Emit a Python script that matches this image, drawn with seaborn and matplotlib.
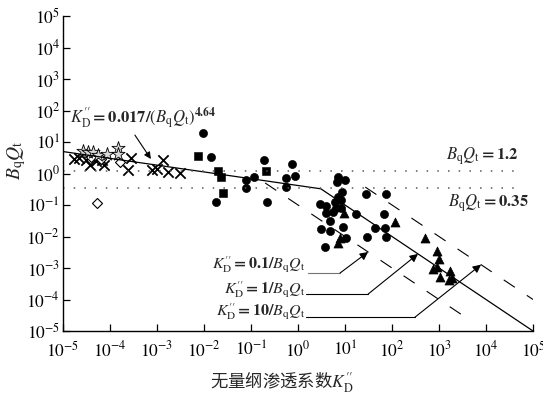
import numpy as np
import pandas as pd
import seaborn as sns
import matplotlib.pyplot as plt
from matplotlib.ticker import NullLocator

# ---- data (K''_D, BqQt) ----
cross_k = [1.7e-5, 2.2e-5, 3.1e-5, 3.7e-5, 5.0e-5, 6.8e-5, 7.5e-5, 2.4e-4, 2.8e-4,
           7.8e-4, 1.0e-3, 1.35e-3, 1.7e-3, 3.1e-3]
cross_b = [2.9, 3.1, 2.7, 1.9, 2.5, 2.7, 1.9, 1.3, 3.1, 1.3, 1.4, 2.7, 1.1, 1.04]

star_k = [2.7e-5, 3.4e-5, 4.4e-5, 5.5e-5, 8.7e-5, 1.5e-4, 1.5e-4]
star_b = [5.2, 4.8, 4.8, 3.9, 4.2, 6.4, 4.2]

diamond_k = [4.0e-5, 6.5e-5, 1.6e-4, 5.3e-5]
diamond_b = [3.3, 2.9, 2.3, 0.115]

square_k = [7.5e-3, 0.02, 0.023, 0.21, 0.025]
square_b = [3.6, 1.2, 0.78, 1.2, 0.24]

circle_k = [9.5e-3, 0.014, 0.018, 0.078, 0.078, 0.115, 0.19, 0.22, 0.56, 0.56, 0.75, 0.87,
            7.1, 10, 6.8, 8.6, 7.1, 28, 75, 2.9, 4.0, 6.1, 8.2, 6.4, 4.0, 5.5, 8.2, 17, 68,
            4.8, 3.1, 4.8, 9.1, 44, 71, 10.5, 29, 75, 3.8]
circle_b = [19, 3.3, 0.125, 0.62, 0.35, 0.78, 2.7, 0.125, 0.72, 0.37, 2.0, 0.83,
            0.78, 0.62, 0.54, 0.26, 0.18, 0.22, 0.22, 0.108, 0.093, 0.125, 0.144, 0.08, 0.056,
            0.06, 0.08, 0.052, 0.052, 0.031, 0.017, 0.015, 0.02, 0.019, 0.019, 0.009, 0.0096,
            0.0096, 0.0047]

tri_k = [9.5, 7.8, 7.1, 115, 500, 910, 1000, 910, 750, 1050, 1700, 1900, 1600]
tri_b = [0.056, 0.009, 0.0062, 0.029, 0.009, 0.0035, 0.0019, 0.0011, 0.00093, 0.00051,
         0.0008, 0.00048, 0.00042]

# fitted / reference relations
fit_a, fit_n = 0.017, 4.64
ratio_ranges = {0.1: (0.2, 5000), 10: (27, 1e5)}
thresholds = [1.2, 0.35]
ticks_exp = list(range(-5, 6))

sns.set_style('ticks')
plt.rcParams['font.family'] = ['Liberation Serif', 'Noto Sans CJK SC']
plt.rcParams['mathtext.fontset'] = 'stix'

KD = r"K^{\prime\prime}_{\mathrm{D}}"
BQ = r"B_{\mathrm{q}}Q_{\mathrm{t}}"

fig = plt.figure(figsize=(5.43, 3.94), dpi=100)
ax = fig.add_axes([63 / 543, 1 - 331 / 394, 470 / 543, 315 / 394])
ax.set_xscale('log')
ax.set_yscale('log')

# solid fit line, switching to K=1/BqQt where they meet
b_break = fit_a ** (1 / (fit_n - 1))
k_break = 1 / b_break
b_start = (fit_a / 1e-5) ** (1 / fit_n)
ax.plot([1e-5, k_break, 1e5], [b_start, b_break, 1e-5], color='k', lw=0.9)

# dashed lines K=0.1/BqQt and K=10/BqQt
for c, (k0, k1) in ratio_ranges.items():
    ax.plot([k0, k1], [c / k0, c / k1], color='k', lw=0.8, ls=(0, (12, 13)))

# dotted thresholds
for t in thresholds:
    ax.plot([1e-5, 10 ** 4.68], [t, t], color='0.35', lw=1.1, ls=(0, (1, 6)))

# scatter groups
sns.scatterplot(x=circle_k, y=circle_b, marker='o', s=34, color='k', edgecolor='k', ax=ax)
sns.scatterplot(x=square_k, y=square_b, marker='s', s=26, color='k', edgecolor='k', ax=ax)
sns.scatterplot(x=tri_k, y=tri_b, marker='^', s=42, color='k', edgecolor='k', ax=ax)
sns.scatterplot(x=cross_k, y=cross_b, marker='x', s=55, color='k', linewidth=1.3, ax=ax)
sns.scatterplot(x=diamond_k, y=diamond_b, marker='D', s=26, facecolor='white',
                edgecolor='k', linewidth=0.8, ax=ax)
sns.scatterplot(x=star_k, y=star_b, marker='*', s=100, facecolor='0.85',
                edgecolor='k', linewidth=0.6, ax=ax)

# axes
ax.set_xlim(1e-5, 1e5)
ax.set_ylim(1e-5, 1e5)
ticks = [10.0 ** e for e in ticks_exp]
labels = [rf'$10^{{{e}}}$' for e in ticks_exp]
ax.set_xticks(ticks, labels)
ax.set_yticks(ticks, labels)
ax.xaxis.set_minor_locator(NullLocator())
ax.yaxis.set_minor_locator(NullLocator())
ax.tick_params(direction='in', length=5, width=0.9, labelsize=12.5, colors='k')
ax.tick_params(axis='x', pad=7)
ax.tick_params(axis='y', pad=2)
sns.despine(ax=ax)
for sp in ['left', 'bottom']:
    ax.spines[sp].set_linewidth(1.0)
    ax.spines[sp].set_color('k')

ax.set_ylabel(rf'${BQ}$', fontsize=14, labelpad=0)
ax.yaxis.set_label_coords(-0.075, 0.543)
ax.set_xlabel(f"无量纲渗透系数${KD}$", fontsize=12.5, fontfamily='Noto Sans CJK SC')
ax.xaxis.set_label_coords(0.466, -0.125)

# annotations
fs = 11.5
ax.text(10 ** -4.85, 10 ** 1.6, rf"${KD}\mathbf{{=0.017/}}({BQ})^{{\mathbf{{4.64}}}}$",
        fontsize=12, ha='left', va='baseline')
ax.annotate('', xy=(10 ** -3.13, 10 ** 0.46), xytext=(10 ** -3.47, 10 ** 1.22),
            arrowprops=dict(arrowstyle='-|>', color='k', lw=0.8, mutation_scale=10,
                            shrinkA=0, shrinkB=0))

ax.text(10 ** 3.15, 10 ** 0.556, rf'${BQ}\mathbf{{=1.2}}$', fontsize=12, ha='left', va='center')
ax.text(10 ** 3.19, 10 ** -0.94, rf'${BQ}\mathbf{{=0.35}}$', fontsize=12, ha='left', va='center')

# callouts for the three K=c/BqQt lines: (c, text y, line start, corner, tip K)
callouts = [
    (0.1, 10 ** -2.90, 10 ** 0.213, (10 ** 0.894, 10 ** -3.16), 31),
    (1, 10 ** -3.67, 10 ** 0.17, (10 ** 1.49, 10 ** -3.83), 357),
    (10, 10 ** -4.40, 10 ** 0.17, (10 ** 2.49, 10 ** -4.56), 7840),
]
for c, ty, x0, corner, tip_k in callouts:
    num = f'{c:g}'
    ax.text(10 ** 0.15, ty, rf"${KD}\mathbf{{={num}/}}{BQ}$",
            fontsize=fs, ha='right', va='center')
    ax.plot([x0, corner[0]], [corner[1], corner[1]], color='0.45' if c == 0.1 else 'k', lw=0.8)
    ax.annotate('', xy=(tip_k, c / tip_k), xytext=corner,
                arrowprops=dict(arrowstyle='-|>', color='k', lw=0.8, mutation_scale=12,
                                shrinkA=0, shrinkB=0))

fig.savefig('out.png', dpi=100)
